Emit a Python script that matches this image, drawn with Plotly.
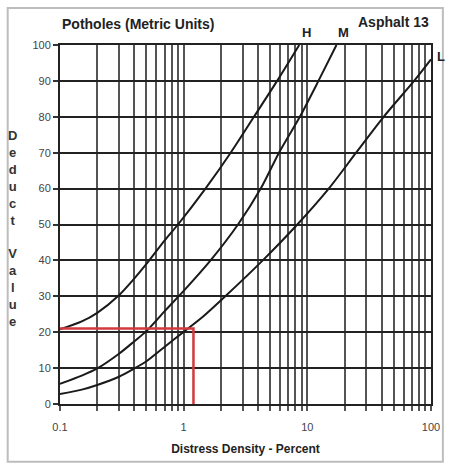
import math
import plotly.graph_objects as go

# Deduct value curves for potholes, asphalt (metric units)
h_density = [0.1, 0.15, 0.2, 0.3, 0.4, 0.5, 0.7, 0.9, 1.5, 2.4, 3.7, 5.7, 8.6]
h_deduct = [20.8, 23, 25.4, 30.3, 35, 39, 45.5, 50, 60, 70, 80, 90, 100]

m_density = [0.1, 0.15, 0.2, 0.3, 0.4, 0.5, 0.7, 1.0, 1.65, 2.75, 4.2, 5.9, 8.7, 12.3, 17.2]
m_deduct = [5.6, 7.9, 9.9, 14, 17.5, 20.3, 25.8, 31.5, 40, 50, 60, 70, 80, 90, 100]

l_density = [0.1, 0.15, 0.2, 0.3, 0.4, 0.5, 0.7, 1.0, 1.43, 2.17, 4.36, 8.3, 14.9, 24.8, 41.4, 73, 100]
l_deduct = [2.8, 4.0, 5.3, 7.6, 9.9, 11.9, 15.9, 20.1, 24.3, 30, 40, 50, 60, 70, 80, 90, 96]

# Worked example: density
example_density = 1.2
example_deduct = 21

x_grid = [m * 10 ** e for e in (-1, 0, 1) for m in range(1, 10)] + [100]
x_labels = {0.1: "0.1", 1: "1", 10: "10", 100: "100"}
x_text = [x_labels.get(round(v, 6), "") for v in x_grid]
y_ticks = list(range(0, 101, 10))

fig = go.Figure()
for xs, ys in ((h_density, h_deduct), (m_density, m_deduct), (l_density, l_deduct)):
    fig.add_trace(go.Scatter(x=xs, y=ys, mode="lines",
                             line=dict(color="#1a1a1a", width=2, shape="spline", smoothing=0.8),
                             hoverinfo="skip", showlegend=False))

fig.add_trace(go.Scatter(x=[0.1, example_density, example_density],
                         y=[example_deduct, example_deduct, 0], mode="lines",
                         line=dict(color="#d23a3c", width=2.5), hoverinfo="skip", showlegend=False))

tick_font = dict(family="Liberation Sans Narrow, Liberation Sans, sans-serif", size=11, color="#444")
fig.update_xaxes(type="log", range=[-1, 2], tickvals=x_grid, ticktext=x_text,
                 showgrid=True, gridcolor="#555", gridwidth=1.5,
                 ticks="outside", ticklen=5, tickcolor="#555", tickwidth=1.5,
                 ticklabelstandoff=7,
                 showline=True, linecolor="#222", linewidth=2, mirror=True,
                 tickfont=tick_font, zeroline=False,
                 title=dict(text="<b>Distress Density - Percent</b>", standoff=12,
                            font=dict(family="Liberation Sans, sans-serif", size=12, color="#222")))
fig.update_yaxes(range=[0, 100], tickvals=y_ticks,
                 showgrid=True, gridcolor="#222", gridwidth=2,
                 ticks="outside", ticklen=5, tickcolor="#333", tickwidth=1.5,
                 showline=True, linecolor="#222", linewidth=2, mirror=True,
                 tickfont=tick_font, zeroline=False)

label_font = dict(family="Liberation Sans, sans-serif", size=13, color="#222")
head_font = dict(family="Liberation Sans, sans-serif", size=14, color="#222")
annotations = [
    dict(x=0.0, y=1.058, xref="paper", yref="paper", xanchor="left", yanchor="middle",
         text="<b>Potholes (Metric Units)</b>", showarrow=False, font=head_font),
    dict(x=1.0, y=1.064, xref="paper", yref="paper", xanchor="right", yanchor="middle",
         text="<b>Asphalt 13</b>", showarrow=False, font=head_font),
    dict(x=-0.128, y=0.49, xref="paper", yref="paper", xanchor="center", yanchor="middle",
         text="<br>".join(["<b>%s</b>" % c if c != " " else "" for c in "Deduct Value"]),
         showarrow=False, font=dict(family="Liberation Sans, sans-serif", size=13, color="#333")),
]
for name, xs, ys, dx, dy in (("H", h_density, h_deduct, 7, 13),
                            ("M", m_density, m_deduct, 7, 13),
                            ("L", l_density, l_deduct, 10, 3)):
    annotations.append(dict(x=math.log10(xs[-1]), y=ys[-1], xref="x", yref="y",
                            text="<b>%s</b>" % name, showarrow=False, xshift=dx, yshift=dy,
                            font=label_font))

fig.update_layout(
    width=452, height=466,
    margin=dict(l=60, r=16, t=45, b=61),
    paper_bgcolor="white", plot_bgcolor="white",
    annotations=annotations,
    shapes=[dict(type="rect", xref="paper", yref="paper",
                 x0=-0.141, x1=1.032, y0=-0.161, y1=1.103,
                 line=dict(color="#bdbdbd", width=2), layer="below")],
)

fig.write_html("out.html")
